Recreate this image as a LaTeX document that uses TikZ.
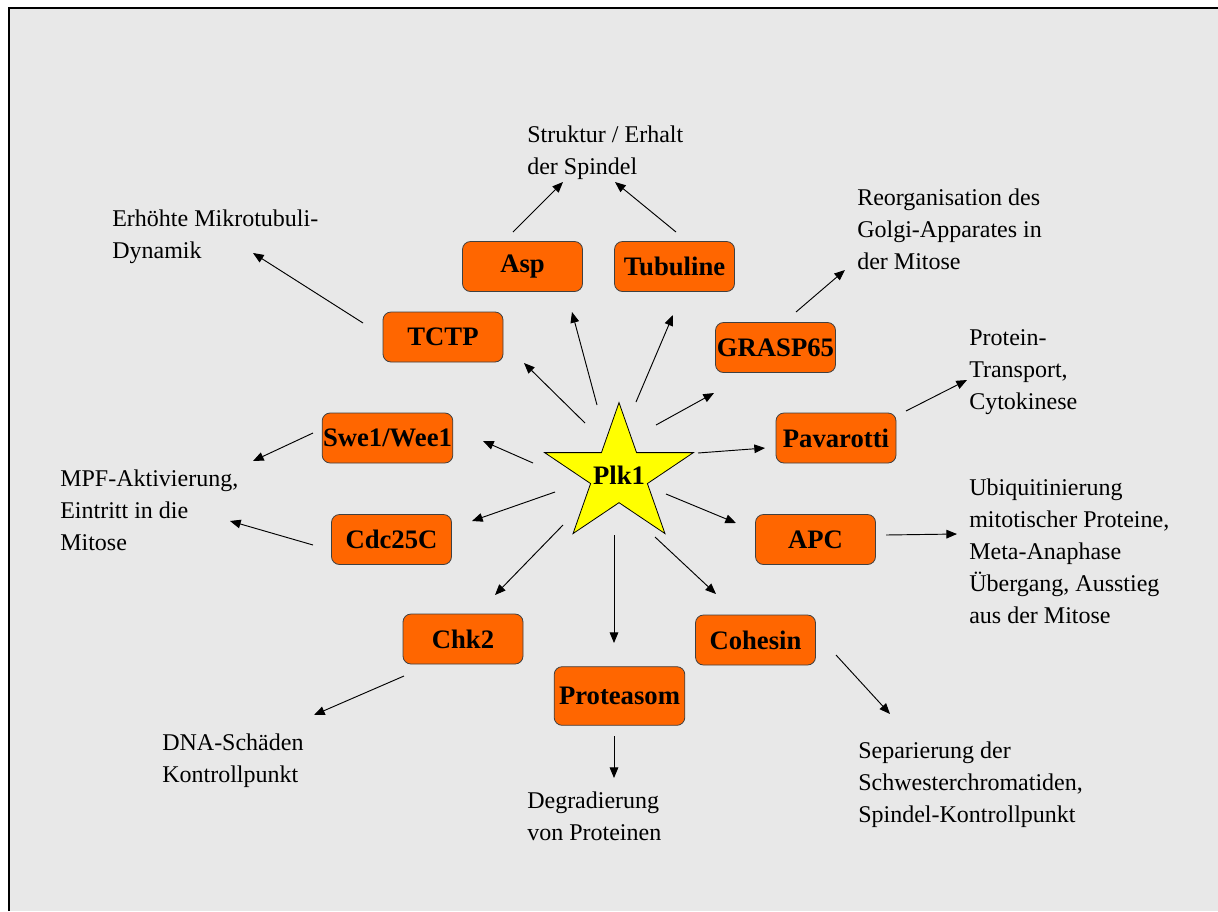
\documentclass[tikz,border=0pt]{standalone}
\usepackage{fontspec}
\setmainfont{Liberation Serif}
\usetikzlibrary{shapes.geometric, arrows.meta}
\definecolor{bgcolor}{RGB}{232,232,232}
\definecolor{protcolor}{RGB}{255,102,0}
\definecolor{plkcolor}{RGB}{255,255,0}

\begin{document}
\begin{tikzpicture}[
    x=0.75pt, y=-0.75pt,
    protein/.style={draw=black!75, line width=0.6pt, fill=protcolor, rounded corners=6pt, minimum width=#1, minimum height=37.5pt, inner sep=0pt, font=\fontsize{20}{24}\selectfont\bfseries},
    protein/.default=90pt,
    effect/.style={anchor=north west, inner sep=0pt, align=left, font=\fontsize{18}{24}\selectfont},
    arr/.style={-{Triangle[length=8pt,width=6.5pt]}, line width=0.7pt}
]
    % Frame
    \useasboundingbox (0,0) rectangle (1218,911);
    \fill[white] (0,0) rectangle (1218,911);
    \fill[bgcolor] (9,8) rectangle (1218,911);
    \draw[line width=2.2pt] (9,911) -- (9,8) -- (1218,8);

    % Plk1 in the middle
    \begin{scope}[shift={(619,475)}, xscale=1.08]
        \node[star, star points=5, star point ratio=2.618, minimum size=108.6pt, inner sep=0pt, draw, line width=0.6pt, fill=plkcolor, transform shape,
              label={[font=\fontsize{20}{24}\selectfont\bfseries]center:Plk1}] (plk) at (0,0) {};
    \end{scope}

    % Substrates
    \node[protein] (asp) at (522.5,266.5) {Asp};
    \node[protein] (tub) at (674.5,266.5) {Tubuline};
    \node[protein] (tctp) at (443,337) {TCTP};
    \node[protein] (grasp) at (775.5,347.5) {GRASP65};
    \node[protein=98pt] (swe) at (387.5,438) {Swe1/Wee1};
    \node[protein] (pav) at (836,438) {Pavarotti};
    \node[protein] (cdc) at (391.5,539.5) {Cdc25C};
    \node[protein] (apc) at (815.5,539.5) {APC};
    \node[protein] (chk) at (463,639) {Chk2};
    \node[protein] (coh) at (755.5,640) {Cohesin};
    \node[protein=98pt, minimum height=44pt] (prot) at (619.5,696) {Proteasom};

    % Functions
    \node[effect] (spindel) at (527,119.6) {\strut Struktur / Erhalt\\der Spindel};
    \node[effect] (mikro) at (112,203.6) {\strut Erhöhte Mikrotubuli-\\Dynamik};
    \node[effect] (golgi) at (857,183) {\strut Reorganisation des\\Golgi-Apparates in\\der Mitose};
    \node[effect] (transp) at (969,323) {\strut Protein-\\Transport,\\Cytokinese};
    \node[effect] (mpf) at (60,464) {\strut MPF-Aktivierung,\\Eintritt in die\\Mitose};
    \node[effect] (ubiq) at (969,472.6) {\strut Ubiquitinierung\\mitotischer Proteine,\\Meta-Anaphase\\Übergang, Ausstieg\\aus der Mitose};
    \node[effect] (dna) at (162,728) {\strut DNA-Schäden\\Kontrollpunkt};
    \node[effect] (degr) at (527,786) {\strut Degradierung\\von Proteinen};
    \node[effect] (separ) at (858,736) {\strut Separierung der\\Schwesterchromatiden,\\Spindel-Kontrollpunkt};

    % Plk1 -> substrates
    \draw[arr] ([shift={(-34,-52)}]plk.center) -- ([shift={(81,26)}]tctp.center);
    \draw[arr] ([shift={(-22,-70)}]plk.center) -- ([shift={(49.5,45.5)}]asp.center);
    \draw[arr] ([shift={(17,-73)}]plk.center) -- ([shift={(-1.5,48.5)}]tub.center);
    \draw[arr] ([shift={(37,-50)}]plk.center) -- ([shift={(-61.5,45.5)}]grasp.center);
    \draw[arr] ([shift={(79,-22)}]plk.center) -- ([shift={(-71,10)}]pav.center);
    \draw[arr] ([shift={(47,19)}]plk.center) -- ([shift={(-79.5,-16.5)}]apc.center);
    \draw[arr] ([shift={(36,62)}]plk.center) -- ([shift={(-39.5,-46)}]coh.center);
    \draw[arr] ([shift={(-5,60)}]plk.center) -- ([shift={(-5.5,-53)}]prot.center);
    \draw[arr] ([shift={(-56,50)}]plk.center) -- ([shift={(32,-44)}]chk.center);
    \draw[arr] ([shift={(-64,17)}]plk.center) -- ([shift={(80.5,-18.5)}]cdc.center);
    \draw[arr] ([shift={(-86,-12)}]plk.center) -- ([shift={(95.5,3)}]swe.center);

    % substrates -> functions
    \draw[arr] ([shift={(-9.5,-34.5)}]asp.center) -- ([shift={(36,62.4)}]spindel.north west);
    \draw[arr] ([shift={(1.5,-34.5)}]tub.center) -- ([shift={(88,62.4)}]spindel.north west);
    \draw[arr] ([shift={(-80,-14)}]tctp.center) -- ([shift={(141,49.4)}]mikro.north west);
    \draw[arr] ([shift={(20.5,-35.5)}]grasp.center) -- ([shift={(-12,87)}]golgi.north west);
    \draw[arr] ([shift={(70,-27)}]pav.center) -- ([shift={(-2,57)}]transp.north west);
    \draw[arr] ([shift={(-74.5,-5)}]swe.center) -- ([shift={(193,-3)}]mpf.north west);
    \draw[arr] ([shift={(-78.5,5.5)}]cdc.center) -- ([shift={(170,57)}]mpf.north west);
    \draw[arr] ([shift={(70.5,-4.5)}]apc.center) -- ([shift={(-12,61.4)}]ubiq.north west);
    \draw[arr] ([shift={(-59,37)}]chk.center) -- ([shift={(152,-13)}]dna.north west);
    \draw[arr] ([shift={(-5.5,40)}]prot.center) -- ([shift={(87,-8)}]degr.north west);
    \draw[arr] ([shift={(80.5,15)}]coh.center) -- ([shift={(32,-22)}]separ.north west);
\end{tikzpicture}
\end{document}
